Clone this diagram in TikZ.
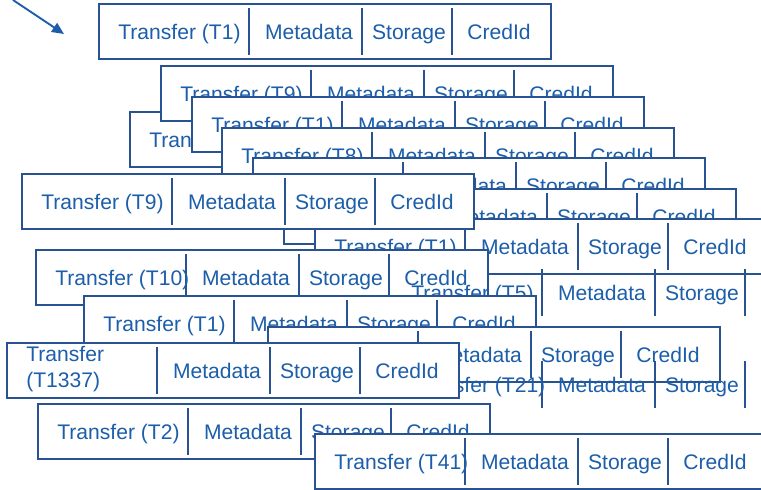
\documentclass[tikz,border=0pt]{standalone}
\usepackage{fontspec}
\setmainfont{Liberation Sans}
\usetikzlibrary{arrows.meta}
\definecolor{recblue}{RGB}{40,82,145}
\definecolor{rectxt}{RGB}{28,94,170}
\tikzset{
    recline/.style={draw=recblue,line width=1.3pt},
    recframe/.style={recline,fill=white},
    rectext/.style={text=rectxt,inner sep=0pt,font=\fontsize{15}{19}\selectfont},
    pointer/.style={draw=rectxt,line width=1.3pt,-{Triangle[length=8.5pt,width=7.5pt]}}
}
% record: {nome}{x}{y}{etichetta}
\newcommand{\recbox}[4]{%
    \begin{scope}[shift={(#2,#3)}]
        \draw[recframe] (0,0) rectangle (452,55);
        \draw[recline] (150,4) -- (150,51)  (263,4) -- (263,51)  (353,4) -- (353,51);
        \node[rectext,anchor=base west] (#1-t) at (19,35.5) {#4};
        \node[rectext,anchor=base] (#1-m) at (210,35.5) {Metadata};
        \node[rectext,anchor=base] (#1-s) at (310,35.5) {Storage};
        \node[rectext,anchor=base] (#1-c) at (400,35.5) {CredId};
    \end{scope}}
% record senza cornice (solo testi e separatori, tagliato a destra)
\newcommand{\recghost}[4]{%
    \begin{scope}[shift={(#2,#3)}]
        \draw[recline] (150,4) -- (150,51)  (263,4) -- (263,51)  (353,4) -- (353,51);
        \node[rectext,anchor=base west] (#1-t) at (19,35.5) {#4};
        \node[rectext,anchor=base] (#1-m) at (210,35.5) {Metadata};
        \node[rectext,anchor=base] (#1-s) at (310,35.5) {Storage};
    \end{scope}}

\begin{document}
\begin{tikzpicture}[x=0.025cm,y=-0.025cm]
        \useasboundingbox (0,0) rectangle (761,490);
        % --- freccia in alto a sinistra ---
        \coordinate (arrtail) at (13,0);
        \coordinate (arrhead) at (64,34);
        \draw[pointer] (arrtail) -- (arrhead);
        % --- record isolato in alto ---
        \recbox{a}{99}{4}{Transfer (T1)}
        % --- pila a scalini ---
        \recbox{tr}{130}{112}{Transfer}
        \recbox{b}{161}{66}{Transfer (T9)}
        \recbox{c}{192}{97}{Transfer (T1)}
        \recbox{d}{222}{128}{Transfer (T8)}
        \recbox{e}{253}{158}{}
        \recbox{f}{284}{189}{}
        \recbox{g}{315}{219}{Transfer (T1)}
        % --- record sparsi sopra la pila ---
        \recbox{h}{22}{174}{Transfer (T9)}
        \recbox{i}{36}{250}{Transfer (T10)}
        \recghost{j}{392}{265}{Transfer (T5)}
        \recbox{k}{84}{296}{Transfer (T1)}
        \recbox{o}{268}{327}{}
        \recghost{p}{392}{357}{Transfer (T21)}
        \recbox{l}{7}{343}{\raisebox{-0.45em}{\begin{tabular}[b]{@{}l@{}}Transfer\\(T1337)\end{tabular}}}
        \recbox{m}{38}{404}{Transfer (T2)}
        \recbox{n}{315}{434}{Transfer (T41)}
\end{tikzpicture}
\end{document}
